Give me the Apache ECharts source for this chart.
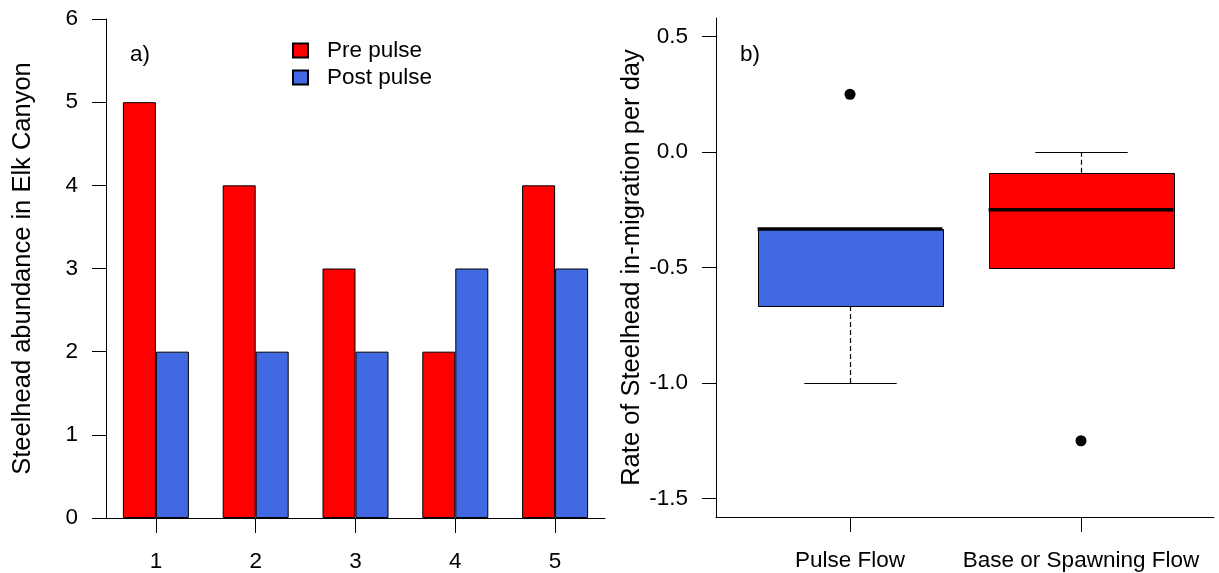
<!DOCTYPE html>
<html><head><meta charset="utf-8">
<script src="https://cdn.jsdelivr.net/npm/echarts@6/dist/echarts.min.js"></script>
<style>html,body{margin:0;padding:0;background:#fff}#c{width:1219px;height:573px}</style>
</head><body><div id="c"></div>
<script>
// ---- data ----
const barCategories = ['1', '2', '3', '4', '5'];
const prePulse = [5, 4, 3, 2, 4];
const postPulse = [2, 2, 2, 3, 3];

const boxCategories = ['Pulse Flow', 'Base or Spawning Flow'];
const boxLow = [-1.0, -0.5];
const boxQ1 = [-0.667, -0.5];
const boxMedian = [-0.333, -0.25];
const boxQ3 = [-0.333, -0.09];
const boxHigh = [-0.333, 0.0];
const outlierCat = [0, 1];
const outlierVal = [0.25, -1.25];
const boxTicks = [-1.5, -1.0, -0.5, 0.0, 0.5];

// ---- styles ----
const FONT = 'Liberation Sans';
const TICK_FS = 22.5;
const TITLE_FS = 25.5;
const boxColors = ['#4169E1', '#FF0000'];
const black = '#000';

const chart = echarts.init(document.getElementById('c'), null, {renderer: 'canvas'});

const boxData = boxCategories.map((c, i) => [i, boxLow[i], boxQ1[i], boxMedian[i], boxQ3[i], boxHigh[i]]);
const outlierData = outlierCat.map((c, i) => [c, outlierVal[i]]);

const crisp = v => Math.round(v) + 0.5;

const option = {
  backgroundColor: '#fff',
  animation: false,
  textStyle: {fontFamily: FONT, color: black},
  legend: {
    orient: 'vertical', left: 287, top: 34,
    itemWidth: 15, itemHeight: 14, itemGap: 4,
    icon: 'rect',
    textStyle: {fontFamily: FONT, fontSize: TICK_FS, color: black, lineHeight: 20, padding: [0, 0, 0, 14]},
    data: ['Pre pulse', 'Post pulse']
  },
  graphic: [
    {type: 'text', x: 130, y: 55, style: {text: 'a)', fontFamily: FONT, fontSize: TICK_FS, fill: black, verticalAlign: 'middle'}},
    {type: 'text', x: 740, y: 55, style: {text: 'b)', fontFamily: FONT, fontSize: TICK_FS, fill: black, verticalAlign: 'middle'}}
  ],
  grid: [
    {left: 106, top: 19, width: 499, height: 499},
    {left: 716, top: 18, width: 498, height: 499},
    {left: 850, top: 18, width: 231, height: 499}
  ],
  xAxis: [
    {
      gridIndex: 0, type: 'category', data: barCategories,
      axisLine: {show: true, onZero: false, lineStyle: {color: black, width: 1}},
      axisTick: {show: true, alignWithLabel: true, length: 15, lineStyle: {color: black, width: 1}},
      axisLabel: {margin: 32, fontSize: TICK_FS, fontFamily: FONT, color: black},
      splitLine: {show: false}
    },
    {
      gridIndex: 1, type: 'value', min: 0, max: 1,
      axisLine: {show: true, onZero: false, lineStyle: {color: black, width: 1}},
      axisTick: {show: false}, axisLabel: {show: false}, splitLine: {show: false}
    },
    {
      gridIndex: 2, type: 'category', data: boxCategories, boundaryGap: false,
      axisLine: {show: false, onZero: false},
      axisTick: {show: true, length: 15, lineStyle: {color: black, width: 1}},
      axisLabel: {margin: 32, interval: 0, fontSize: TICK_FS, fontFamily: FONT, color: black},
      splitLine: {show: false}
    }
  ],
  yAxis: [
    {
      gridIndex: 0, type: 'value', min: 0, max: 6, interval: 1,
      name: 'Steelhead abundance in Elk Canyon', nameLocation: 'middle', nameGap: 70,
      nameTextStyle: {fontFamily: FONT, fontSize: TITLE_FS, color: black, lineHeight: 26},
      axisLine: {show: true, lineStyle: {color: black, width: 1}},
      axisTick: {show: true, length: 14, lineStyle: {color: black, width: 1}},
      axisLabel: {margin: 28, fontSize: TICK_FS, fontFamily: FONT, color: black},
      splitLine: {show: false}
    },
    {
      gridIndex: 1, type: 'value', min: -1.58, max: 0.58,
      name: 'Rate of Steelhead in-migration per day', nameLocation: 'middle', nameGap: 70,
      nameTextStyle: {fontFamily: FONT, fontSize: TITLE_FS, color: black, lineHeight: 26},
      axisLine: {show: true, onZero: false, lineStyle: {color: black, width: 1}},
      axisTick: {show: true, length: 14, customValues: boxTicks, lineStyle: {color: black, width: 1}},
      axisLabel: {margin: 28, customValues: boxTicks, fontSize: TICK_FS, fontFamily: FONT, color: black,
        formatter: v => Number(v).toFixed(1)},
      splitLine: {show: false}
    },
    {
      gridIndex: 2, type: 'value', min: -1.58, max: 0.58, show: false, splitLine: {show: false}
    }
  ],
  series: [
    {
      name: 'Pre pulse', type: 'bar', xAxisIndex: 0, yAxisIndex: 0, data: prePulse,
      barWidth: 33, barGap: '0%',
      itemStyle: {color: '#FF0000', borderColor: black, borderWidth: 1}
    },
    {
      name: 'Post pulse', type: 'bar', xAxisIndex: 0, yAxisIndex: 0, data: postPulse,
      barWidth: 33, barGap: '0%',
      itemStyle: {color: '#4169E1', borderColor: black, borderWidth: 1}
    },
    {
      name: 'box', type: 'custom', xAxisIndex: 2, yAxisIndex: 2, data: boxData, clip: false,
      encode: {x: 0, y: [1, 2, 3, 4, 5]},
      renderItem: function (params, api) {
        const i = api.value(0);
        const x0 = api.coord([i, 0])[0];
        const x = crisp(x0);
        const step = api.coord([1, 0])[0] - api.coord([0, 0])[0];
        const hw = step * 0.4, cw = step * 0.2;
        const yL = crisp(api.coord([i, api.value(1)])[1]);
        const yQ1 = api.coord([i, api.value(2)])[1];
        const yM = api.coord([i, api.value(3)])[1];
        const yQ3 = api.coord([i, api.value(4)])[1];
        const yH = crisp(api.coord([i, api.value(5)])[1]);
        const dash = {stroke: black, lineWidth: 1.2, lineDash: [5, 3]};
        const solid = {stroke: black, lineWidth: 1};
        return {
          type: 'group', children: [
            {type: 'line', shape: {x1: x, y1: yQ1, x2: x, y2: yL}, style: dash},
            {type: 'line', shape: {x1: x, y1: yQ3, x2: x, y2: yH}, style: dash},
            {type: 'line', shape: {x1: x - cw, y1: yL, x2: x + cw, y2: yL}, style: solid},
            {type: 'line', shape: {x1: x - cw, y1: yH, x2: x + cw, y2: yH}, style: solid},
            {type: 'rect', shape: {x: Math.round(x0 - hw) + 0.5, y: Math.round(yQ3) + 0.5,
              width: Math.round(2 * hw), height: Math.round(yQ1 - yQ3)},
              style: {fill: boxColors[i], stroke: black, lineWidth: 1}},
            {type: 'line', shape: {x1: x0 - hw, y1: yM, x2: x0 + hw, y2: yM}, style: {stroke: black, lineWidth: 3.5}}
          ]
        };
      }
    },
    {
      name: 'outliers', type: 'scatter', xAxisIndex: 2, yAxisIndex: 2, data: outlierData, clip: false,
      symbol: 'circle', symbolSize: 11, itemStyle: {color: black, opacity: 1}
    }
  ]
};
chart.setOption(option);
</script>
</body></html>
